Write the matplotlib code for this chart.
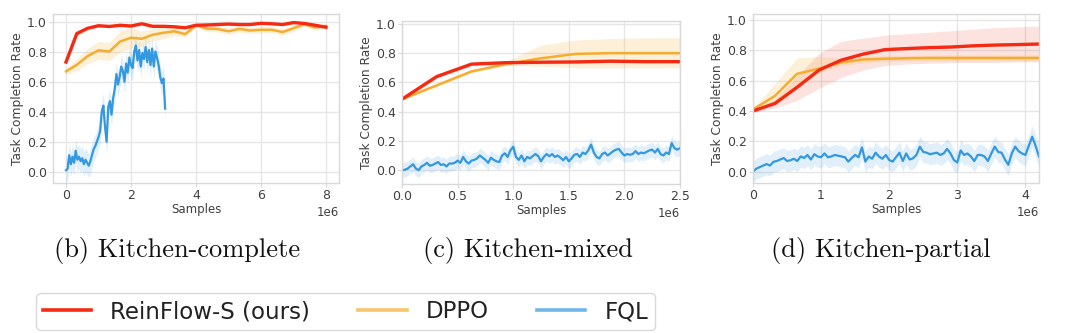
import numpy as np
import matplotlib
matplotlib.use("Agg")
import matplotlib.pyplot as plt
from matplotlib.lines import Line2D

# ---------------- data (x in units of 1e6 samples) ----------------
# Panel b: Kitchen-complete
b_x = np.linspace(0, 8, 25)
b_red = [0.73, 0.92, 0.955, 0.972, 0.967, 0.975, 0.97, 0.985, 0.968, 0.968, 0.965, 0.958, 0.975,
         0.977, 0.98, 0.983, 0.98, 0.98, 0.988, 0.985, 0.98, 0.993, 0.987, 0.975, 0.962]
b_red_sd = [0.01, 0.015, 0.012, 0.008, 0.008, 0.008, 0.008, 0.008, 0.008, 0.008, 0.008, 0.008, 0.008,
            0.008, 0.008, 0.008, 0.008, 0.008, 0.008, 0.008, 0.008, 0.008, 0.008, 0.008, 0.01]
b_org = [0.668, 0.712, 0.77, 0.808, 0.80, 0.867, 0.892, 0.885, 0.912, 0.925, 0.935, 0.916, 0.975,
         0.953, 0.95, 0.935, 0.951, 0.94, 0.945, 0.945, 0.93, 0.955, 0.982, 0.96, 0.97]
b_org_sd = [0.02, 0.04, 0.05, 0.06, 0.06, 0.07, 0.07, 0.05, 0.04, 0.04, 0.03, 0.02, 0.015,
            0.02, 0.02, 0.02, 0.02, 0.02, 0.02, 0.02, 0.02, 0.02, 0.015, 0.02, 0.015]
b_blue_x = np.arange(62) * 0.05
b_blue = [0.01, 0.02, 0.11, 0.05, 0.10, 0.06, 0.14, 0.08, 0.10, 0.07, 0.09, 0.05, 0.08, 0.06, 0.04,
          0.07, 0.11, 0.15, 0.17, 0.20, 0.23, 0.27, 0.40, 0.44, 0.30, 0.20, 0.43, 0.47, 0.38, 0.49,
          0.55, 0.65, 0.58, 0.63, 0.70, 0.67, 0.60, 0.72, 0.66, 0.76, 0.71, 0.69, 0.80, 0.84, 0.74,
          0.81, 0.70, 0.79, 0.75, 0.83, 0.73, 0.81, 0.71, 0.82, 0.70, 0.80, 0.76, 0.71, 0.63, 0.59,
          0.62, 0.42]
b_blue_spread = 0.08

# Panel c: Kitchen-mixed
c_x = np.linspace(0, 2.5, 9)
c_red = [0.485, 0.64, 0.725, 0.735, 0.738, 0.74, 0.745, 0.742, 0.742]
c_red_lo = [0.475, 0.63, 0.715, 0.725, 0.728, 0.73, 0.735, 0.732, 0.732]
c_red_hi = [0.495, 0.65, 0.735, 0.745, 0.748, 0.75, 0.755, 0.752, 0.752]
c_org = [0.485, 0.58, 0.675, 0.725, 0.765, 0.795, 0.80, 0.80, 0.80]
c_org_lo = [0.48, 0.57, 0.665, 0.715, 0.71, 0.70, 0.70, 0.70, 0.70]
c_org_hi = [0.49, 0.59, 0.685, 0.745, 0.855, 0.89, 0.90, 0.905, 0.905]
c_blue_x = np.arange(101) * 0.025
c_blue = [0.0, 0.002, 0.01, 0.025, 0.04, 0.01, 0.0, 0.025, 0.035, 0.05, 0.03, 0.035, 0.045, 0.055,
          0.035, 0.04, 0.025, 0.045, 0.045, 0.05, 0.065, 0.05, 0.09, 0.06, 0.045, 0.065, 0.07, 0.08,
          0.10, 0.085, 0.07, 0.05, 0.085, 0.07, 0.06, 0.055, 0.10, 0.115, 0.09, 0.135, 0.16, 0.09,
          0.07, 0.10, 0.06, 0.09, 0.08, 0.095, 0.11, 0.095, 0.06, 0.09, 0.11, 0.095, 0.11, 0.09, 0.10,
          0.085, 0.068, 0.09, 0.06, 0.08, 0.105, 0.11, 0.09, 0.12, 0.11, 0.135, 0.175, 0.12, 0.09,
          0.08, 0.11, 0.12, 0.10, 0.115, 0.13, 0.14, 0.145, 0.12, 0.10, 0.11, 0.105, 0.11, 0.13, 0.11,
          0.12, 0.115, 0.125, 0.135, 0.14, 0.12, 0.145, 0.11, 0.10, 0.12, 0.11, 0.185, 0.15, 0.14,
          0.15]
c_blue_spread = 0.05

# Panel d: Kitchen-partial
d_x = np.linspace(0, 4.2, 14)
d_red = [0.40, 0.45, 0.556, 0.67, 0.735, 0.775, 0.805, 0.812, 0.818, 0.822, 0.83, 0.835, 0.838, 0.842]
d_red_lo = [0.39, 0.42, 0.47, 0.55, 0.62, 0.67, 0.70, 0.71, 0.715, 0.72, 0.72, 0.72, 0.725, 0.725]
d_red_hi = [0.41, 0.48, 0.63, 0.78, 0.86, 0.88, 0.90, 0.91, 0.92, 0.93, 0.94, 0.95, 0.955, 0.96]
d_org = [0.41, 0.50, 0.645, 0.68, 0.72, 0.74, 0.745, 0.748, 0.75, 0.75, 0.75, 0.75, 0.75, 0.75]
d_org_lo = [0.40, 0.45, 0.55, 0.65, 0.70, 0.72, 0.725, 0.73, 0.73, 0.73, 0.73, 0.73, 0.73, 0.73]
d_org_hi = [0.42, 0.58, 0.75, 0.76, 0.745, 0.76, 0.765, 0.765, 0.77, 0.77, 0.77, 0.77, 0.77, 0.77]
d_blue_x = np.arange(85) * 0.05
d_blue = [0.0, 0.02, 0.03, 0.04, 0.05, 0.04, 0.065, 0.07, 0.08, 0.09, 0.07, 0.075, 0.085, 0.07, 0.10,
          0.09, 0.11, 0.08, 0.115, 0.10, 0.095, 0.12, 0.095, 0.10, 0.11, 0.105, 0.10, 0.095, 0.066,
          0.09, 0.11, 0.095, 0.16, 0.066, 0.10, 0.085, 0.125, 0.10, 0.085, 0.11, 0.077, 0.066, 0.095,
          0.125, 0.07, 0.12, 0.08, 0.088, 0.11, 0.165, 0.13, 0.125, 0.115, 0.12, 0.125, 0.11, 0.12,
          0.15, 0.12, 0.077, 0.06, 0.14, 0.11, 0.12, 0.10, 0.07, 0.11, 0.11, 0.10, 0.07, 0.12, 0.165,
          0.13, 0.125, 0.08, 0.045, 0.12, 0.165, 0.135, 0.12, 0.11, 0.17, 0.23, 0.17, 0.10]
d_blue_spread = 0.07

captions = ["(b) Kitchen-complete", "(c) Kitchen-mixed", "(d) Kitchen-partial"]
legend_labels = ["ReinFlow-S (ours)", "DPPO", "FQL"]
b_xticks = [0, 2, 4, 6, 8]
c_xticks = [0.0, 0.5, 1.0, 1.5, 2.0, 2.5]
d_xticks = [0, 1, 2, 3, 4]
yticks = [0.0, 0.2, 0.4, 0.6, 0.8, 1.0]

# ---------------- style ----------------
RED = "#f52a12"
ORG = "#f6ac2e"
BLUE = "#3498e0"
GRID = "#e6e6e6"
SPINE = "#d9d9d9"
TXT = "#404040"

plt.rcParams["font.family"] = ["DejaVu Sans"]

fig = plt.figure(figsize=(10.8, 3.33), dpi=100)
W, H = 1080, 333
ax_b = fig.add_axes([53 / W, 1 - 183 / H, 286 / W, 169 / H])
ax_c = fig.add_axes([402 / W, 1 - 184 / H, 278 / W, 163.3 / H])
ax_d = fig.add_axes([753 / W, 1 - 183 / H, 286 / W, 169 / H])


def style(ax, xticks, xlim, ylim):
    ax.set_facecolor("white")
    ax.grid(True, color=GRID, lw=1.0)
    ax.set_axisbelow(True)
    for s in ax.spines.values():
        s.set_color(SPINE)
        s.set_linewidth(1.0)
    ax.set_xticks(np.array(xticks) * 1e6)
    ax.set_yticks(yticks)
    ax.set_xlim(xlim[0] * 1e6, xlim[1] * 1e6)
    ax.set_ylim(*ylim)
    ax.tick_params(axis="both", colors=SPINE, labelcolor=TXT, labelsize=9, length=3, width=0.8, pad=1.5)
    ax.xaxis.get_offset_text().set_fontsize(8.5)
    ax.xaxis.get_offset_text().set_color(TXT)
    ax.set_xlabel("Samples", fontsize=8.5, color=TXT, labelpad=0.5)
    ax.set_ylabel("Task Completion Rate", fontsize=8.8, color=TXT, labelpad=2)


def band(ax, x, lo, hi, color, alpha):
    ax.fill_between(np.asarray(x) * 1e6, lo, hi, color=color, alpha=alpha, lw=0)


# panel b
bx = b_x * 1e6
band(ax_b, b_blue_x, np.array(b_blue) - b_blue_spread, np.array(b_blue) + b_blue_spread, BLUE, 0.15)
ax_b.plot(b_blue_x * 1e6, b_blue, color=BLUE, lw=1.6)
band(ax_b, b_x, np.array(b_org) - b_org_sd, np.array(b_org) + b_org_sd, ORG, 0.18)
ax_b.plot(bx, b_org, color=ORG, lw=1.8)
band(ax_b, b_x, np.array(b_red) - b_red_sd, np.array(b_red) + b_red_sd, RED, 0.15)
ax_b.plot(bx, b_red, color=RED, lw=2.4)
style(ax_b, b_xticks, (-0.4, 8.4), (-0.075, 1.05))

# panel c
band(ax_c, c_blue_x, np.array(c_blue) - c_blue_spread, np.array(c_blue) + c_blue_spread, BLUE, 0.15)
ax_c.plot(c_blue_x * 1e6, c_blue, color=BLUE, lw=1.6)
band(ax_c, c_x, c_org_lo, c_org_hi, ORG, 0.18)
ax_c.plot(c_x * 1e6, c_org, color=ORG, lw=1.8)
band(ax_c, c_x, c_red_lo, c_red_hi, RED, 0.15)
ax_c.plot(c_x * 1e6, c_red, color=RED, lw=2.4)
style(ax_c, c_xticks, (0, 2.5), (-0.095, 1.022))

# panel d
band(ax_d, d_blue_x, np.array(d_blue) - d_blue_spread, np.array(d_blue) + d_blue_spread, BLUE, 0.15)
ax_d.plot(d_blue_x * 1e6, d_blue, color=BLUE, lw=1.6)
band(ax_d, d_x, d_red_lo, d_red_hi, RED, 0.13)
band(ax_d, d_x, d_org_lo, d_org_hi, ORG, 0.18)
ax_d.plot(d_x * 1e6, d_org, color=ORG, lw=1.8)
ax_d.plot(d_x * 1e6, d_red, color=RED, lw=2.4)
style(ax_d, d_xticks, (0, 4.2), (-0.075, 1.04))

# captions
for xc, txt in zip([177 / W, 528 / W, 881 / W], captions):
    fig.text(xc, 1 - 251 / H, txt, ha="center", va="center", fontsize=19,
             family=["cmr10", "DejaVu Serif"], color="#111111")

handles = [Line2D([], [], color=RED, lw=2.6),
           Line2D([], [], color=ORG, lw=2.6, alpha=0.7),
           Line2D([], [], color=BLUE, lw=2.6, alpha=0.7)]
leg = fig.legend(handles, legend_labels, loc="lower left", bbox_to_anchor=(36 / W, 3 / H),
                 ncol=3, fontsize=16.5, frameon=True, handlelength=2.1, columnspacing=2.1,
                 handletextpad=0.85, borderpad=0.3, borderaxespad=0.0, fancybox=True)
leg.get_frame().set_edgecolor("#d0d0d0")
leg.get_frame().set_linewidth(1.0)
for t in leg.get_texts():
    t.set_color("#222222")

fig.savefig("out.png", dpi=100, facecolor="white")
